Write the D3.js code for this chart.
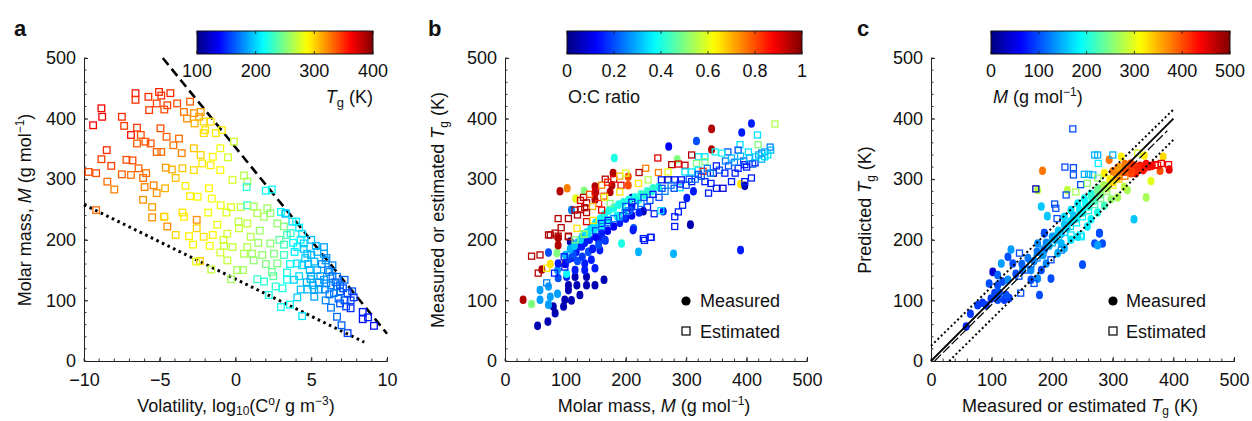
<!DOCTYPE html>
<html><head><meta charset="utf-8">
<script src="https://cdn.jsdelivr.net/npm/d3@7"></script>
<style>body{margin:0;background:#fff}svg{display:block}text{font-family:"Liberation Sans",Arial,Helvetica,sans-serif;fill:#111}</style>
</head><body>
<svg id="chart" width="1252" height="421"></svg>
<script>
// ---------------- DATA ----------------
// Panel a: [volatility log10(C0), molar mass M, Tg (K)]
const aEstimated = [
[-6.6,442,355],[-5.05,444,352],[-4.3,442,350],[-5.75,436,350],[-4.9,438,348],[-6.6,431,350],[-5.2,425,345],[-4.5,422,342],
[-3.85,425,340],[-3.0,428,335],[-5.7,414,345],[-4.7,415,340],[-3.4,411,330],[-2.74,409,322],[-2.3,411,318],[-2.4,403,315],
[-3.2,400,322],[-2.7,392,310],[-2.1,395,300],[-1.64,395,298],[-2.0,381,295],[-1.3,376,295],[-0.9,381,292],[-2.1,376,298],
[-8.85,417,365],[-8.8,403,365],[-9.4,389,362],[-7.5,403,350],[-7.35,388,345],[-6.5,385,345],[-6.9,373,358],[-4.95,384,340],
[-4.55,370,335],[-3.73,367,330],[-6.25,373,340],[-5.95,362,338],[-5.6,359,338],[-6.5,359,335],[-4.1,356,330],[-5.2,345,335],
[-4.9,345,330],[-3.55,343,325],[-2.75,351,305],[-2.3,340,300],[-1.5,337,290],[-1.0,351,282],[-0.5,336,275],[-0.1,362,272],
[-8.5,348,350],[-8.85,333,345],[-7.2,332,340],[-6.8,331,340],[-8.2,322,345],[-9.2,310,340],[-9.7,312,340],[-7.5,308,335],
[-6.9,307,330],[-6.4,318,335],[-5.9,310,330],[-4.6,319,318],[-4.2,316,312],[-3.5,318,305],[-2.75,315,298],[-2.2,326,295],
[-1.64,323,292],[-1.0,315,288],[-0.2,299,275],[0.56,306,265],[0.78,296,262],[0.74,287,225],[2.0,281,215],[2.4,283,215],
[-8.46,296,330],[-8.0,283,325],[-6.1,302,330],[-5.4,290,325],[-6.0,287,325],[-5.2,277,320],[-6.1,266,320],[-5.5,254,315],
[-4.65,285,310],[-3.95,302,305],[-3.3,289,292],[-2.5,271,290],[-1.75,285,290],[-3.0,272,292],[-1.57,268,285],[-4.7,238,305],
[-3.4,238,292],[-0.98,257,282],[-0.3,254,278],[0.34,254,270],[0.78,257,228],[1.2,255,262],[2.1,252,258],[3.0,246,215],
[3.3,243,190],[-1.8,245,285],[-0.6,245,278],[-9.2,249,330],[-5.5,237,320],[-4.7,238,300],[-3.5,245,296],[-4.5,222,322],
[-2.56,233,320],[-2.56,219,300],[-3.95,208,300],[-3.07,206,292],[-2.1,205,295],[-1.5,208,290],[-2.8,192,290],[-1.7,190,285],
[-2.35,165,302],[-2.6,164,280],[-1.6,151,270],[-0.54,210,275],[-0.76,190,270],[-1.0,179,275],[-0.2,188,270],[-0.54,166,270],
[0.12,150,262],[-0.3,135,260],[0.23,219,272],[0.78,227,270],[1.0,205,265],[0.78,188,265],[0.56,177,265],[1.1,177,260],
[1.2,166,255],[0.5,150,260],[1.44,135,228],[1.88,131,225],[2.2,109,220],[1.77,175,255],[2.3,194,255],[2.54,177,250],
[2.76,161,250],[2.4,147,245],[2.65,123,225],[3.1,120,220],[3.0,89,215],[3.6,93,215],[4.4,74,205],[4.08,105,198],
[3.4,146,220],[3.2,175,232],[3.2,192,230],[3.4,208,235],[3.2,222,250],[2.76,227,255],[1.88,238,260],[1.44,244,265],
[2.3,244,255],[3.3,244,200],[3.75,230,205],[3.64,211,225],[4.3,200,210],[4.08,188,205],[4.5,194,200],[4.74,177,195],
[4.08,161,205],[4.4,158,200],[3.4,134,215],[3.86,134,200],[4.3,118,195],[4.74,118,192],[5.2,118,188],[5.5,118,185],
[5.2,106,185],[5.4,180,190],[5.2,164,192],[5.4,150,188],[4.96,135,192],[5.84,188,185],[5.95,166,182],[6.2,147,178],
[5.84,134,182],[6.3,125,176],[6.7,139,172],[6.7,123,172],[7.2,134,168],[6.9,115,166],[5.95,100,178],[6.3,88,172],
[7.2,100,160],[7.6,100,155],[7.6,87,150],[7.7,115,160],[6.7,73,168],[7.0,59,165],[7.4,46,155],[8.4,81,145],
[8.4,69,140],[8.75,72,145],[9.14,58,140],[6.4,158,178],[5.84,177,185],[4.6,170,198],[4.9,150,192],[5.6,140,185],
[6.0,128,180],[6.5,112,175],[3.9,180,208],[4.2,140,202],[5.1,125,190],[6.8,103,170],[3.6,160,215],[2.9,200,240],
[1.6,215,258],[0.2,230,268],[-1.2,225,282],[-0.8,200,275],[2.0,160,250],[2.5,140,240],[1.5,195,258],[4.0,230,210],
[4.5,185,195],[5.0,175,190],[5.3,190,190],[5.7,160,180],[6.1,150,175],[6.4,140,172],[6.0,170,180],[6.6,130,168],
[6.9,125,166],[7.1,120,162],[7.4,112,158],[7.8,105,152],[5.5,130,182],[5.0,140,186],[4.7,130,190],[6.2,110,170],
[6.9,95,163],[7.3,90,158],[4.4,210,205],[5.0,200,195],[4.2,220,208],[3.8,195,212],[4.8,160,192],[5.9,118,178]
];
const aDashed = [[-4.8,500],[10,45]];
const aDotted = [[-10,258],[8.5,31]];

// Panel b: [M, Tg, O:C]
const bMeasured = [
[342,383,0.95],[408,392,0.15],[392,377,0.15],[317,363,0.2],[271,354,0.12],[181,335,0.4],[342,349,0.95],[285,333,0.5],
[179,310,0.95],[91,280,0.95],[103,285,0.75],[131,281,0.5],[117,268,0.6],[149,288,0.95],[149,277,0.95],[177,290,0.95],
[174,279,0.95],[149,266,0.95],[204,304,0.8],[204,290,0.8],[110,249,0.25],[390,292,0.65],[397,289,0.05],[210,269,0.05],
[229,247,0.05],[213,219,0.2],[307,225,0.05],[301,269,0.15],[312,280,0.15],[262,247,0.15],[243,280,0.4],[232,274,0.4],
[221,266,0.4],[210,254,0.15],[254,287,0.4],
[30,101,0.95],[44,94,0.5],[54,58,0.05],[71,65,0.05],[83,79,0.05],[80,90,0.05],[97,90,0.05],[99,101,0.05],[110,100,0.05],
[124,109,0.05],[105,117,0.05],[119,125,0.05],[135,125,0.05],[105,125,0.05],[149,125,0.05],[164,134,0.05],[135,139,0.05],
[116,139,0.05],[102,139,0.15],[88,137,0.2],[72,123,0.28],[58,117,0.28],[58,101,0.28],[72,93,0.28],[75,106,0.28],
[87,111,0.28],[87,150,0.28],[102,144,0.38],[61,151,0.95],[75,160,0.65],[72,179,0.2],[88,161,0.15],[99,161,0.78],
[86,178,0.5],[88,191,0.95],[88,203,0.95],[108,197,0.05],[127,189,0.15],[132,161,0.15],[132,150,0.15],[116,150,0.15],
[149,153,0.15],[143,167,0.15],[157,183,0.15],[155,199,0.15],[166,199,0.15],[193,194,0.4],[221,180,0.3],[279,177,0.3],
[390,183,0.15],[212,216,0.15],
[120,195,0.3],[128,205,0.3],[135,212,0.35],[142,220,0.35],[150,228,0.35],[158,235,0.38],[165,242,0.4],[172,248,0.4],
[180,253,0.4],[188,258,0.4],[196,262,0.4],[205,266,0.4],[215,270,0.4],[225,275,0.42],[235,280,0.42],[245,285,0.42],
[110,170,0.15],[118,180,0.15],[125,190,0.15],[132,195,0.15],[140,200,0.15],[150,205,0.12],[160,210,0.15],[170,215,0.12],
[180,222,0.12],[190,228,0.15],[200,235,0.15],[210,240,0.12],[222,245,0.15],[100,160,0.12],[105,168,0.18],[113,175,0.2],
[120,165,0.2],[128,172,0.18],[138,180,0.2],[145,185,0.15],[155,192,0.2],[165,200,0.18],
[100,175,0.3],[108,185,0.3],[115,190,0.32],[125,200,0.33],[138,210,0.35],[148,218,0.35],[160,225,0.38],[170,232,0.38],
[185,240,0.4],[198,248,0.4]
];
const bEstimated = [
[447,391,0.55],[418,373,0.35],[419,357,0.5],[389,357,0.35],[439,353,0.25],[425,343,0.25],[403,345,0.35],[386,348,0.2],
[369,345,0.2],[359,343,0.4],[348,345,0.38],[331,337,0.35],[320,337,0.35],[309,340,0.95],[331,329,0.5],[317,326,0.5],
[298,323,0.95],[276,324,0.95],[253,335,0.9],[287,325,0.9],[270,312,0.6],[254,311,0.75],[237,299,0.55],[221,293,0.65],
[233,318,0.75],[222,311,0.95],[166,300,0.95],[192,290,0.9],[190,279,0.65],[164,272,0.8],[174,260,0.5],[160,249,0.9],
[135,261,0.95],[116,249,0.95],[132,253,0.95],[88,235,0.95],[105,235,0.95],[120,241,0.95],[93,220,0.95],[75,208,0.95],
[88,206,0.95],[105,206,0.95],[135,230,0.9],[146,232,0.65],[131,209,0.5],[119,219,0.65],[160,227,0.15],[171,232,0.15],
[188,238,0.35],[201,243,0.15],[236,254,0.15],[247,243,0.15],[258,248,0.35],[287,246,0.15],[281,238,0.15],[281,222,0.15],
[294,257,0.15],[337,277,0.15],[350,285,0.15],[361,285,0.08],[397,296,0.15],[408,302,0.15],[375,296,0.15],[331,296,0.15],
[341,293,0.15],[292,299,0.15],[309,296,0.15],[281,299,0.15],[259,299,0.15],[270,299,0.08],[345,310,0.08],[364,310,0.15],
[381,310,0.15],[386,318,0.15],[397,324,0.15],[414,327,0.15],[430,337,0.35],[414,337,0.35],[320,315,0.35],[309,312,0.35],
[298,312,0.35],[328,313,0.85],[290,286,0.35],[242,204,0.15],[229,202,0.15],
[44,173,0.95],[58,175,0.95],[55,145,0.95],[72,208,0.95],[83,211,0.95],[105,205,0.95],[116,200,0.5],[69,153,0.65],
[82,145,0.15],[69,129,0.25],[98,172,0.15],[99,155,0.15],[231,199,0.15],[241,204,0.15],[131,210,0.5],
[150,215,0.2],[160,222,0.25],[170,228,0.2],[180,235,0.25],[195,240,0.2],[205,248,0.25],[215,255,0.2],[225,260,0.25],
[240,265,0.2],[255,270,0.2],[265,280,0.25],[280,285,0.2],[300,290,0.2],[315,300,0.25],[325,305,0.2],[340,310,0.25],
[355,315,0.2],[370,322,0.2],[380,328,0.25],[395,330,0.2],[405,335,0.3],[420,340,0.3],[430,345,0.3],[440,348,0.3],
[435,340,0.35],[425,333,0.3],[410,325,0.2],[400,320,0.15],
[125,265,0.9],[130,270,0.95],[140,275,0.8],[150,280,0.9],[155,260,0.85],[145,255,0.7],[160,290,0.75],[170,295,0.85],
[165,270,0.6],[135,245,0.95],[125,250,0.95],[180,300,0.9],[190,305,0.7],[200,310,0.6],
[200,255,0.2],[210,262,0.15],[230,270,0.2],[245,275,0.15],[260,285,0.2],[275,290,0.25],[290,292,0.15],[305,300,0.2],
[320,308,0.2],[335,318,0.25],[350,322,0.15],[365,330,0.25],[375,335,0.3],[390,338,0.3]
];

// Panel c: [measured or estimated Tg, predicted Tg, M]
const cMeasured = [
[294,332,380],[314,337,320],[352,339,320],[383,337,330],[378,314,400],[393,316,450],[363,297,300],[355,270,270],
[335,234,160],[324,282,270],[184,314,380],[176,282,280],[182,255,160],[192,239,160],[225,282,280],[286,310,320],
[300,313,380],[308,318,385],[319,321,390],[330,318,420],[341,318,430],[352,318,440],[360,321,440],[330,326,400],
[338,310,430],[308,303,320],[297,298,280],[286,290,270],[275,285,240],[264,276,200],[253,268,190],[242,260,180],
[231,249,175],[220,238,170],[236,234,175],[264,234,185],[275,245,200],[286,256,220],[297,267,260],[308,270,270],
[319,287,280],[278,211,100],[187,211,90],[258,222,180],
[58,57,80],[65,78,90],[77,92,90],[85,96,90],[91,92,95],[99,103,90],[110,101,100],[121,101,90],[129,104,95],[105,112,95],
[113,112,100],[124,109,100],[96,128,100],[110,125,100],[118,131,100],[102,147,40],[110,142,110],[127,134,130],[116,161,140],
[127,172,100],[132,184,140],[135,161,100],[140,144,100],[151,150,130],[165,150,130],[165,134,100],[176,136,130],[182,150,100],
[179,109,100],[198,136,100],[190,161,130],[187,183,100],[176,194,130],[187,211,100],[204,205,140],[215,194,150],[209,178,150],
[220,186,150],[231,200,175],[242,205,175],[250,159,100],[270,194,100],[283,194,100],[278,211,100],[275,191,140],
[150,160,110],[160,170,120],[170,165,130],[175,180,120],[185,175,140],[190,195,130],[195,190,150],[200,205,140],[205,200,150],
[210,215,160],[215,210,150],[220,225,160],[225,220,170],[230,230,170],[235,240,160],[240,235,180],[245,250,180],[250,245,190],
[255,260,190],[260,255,200],[265,270,210],[270,265,220],[275,280,240],[280,275,250],[285,290,270],[290,285,280],[295,300,320],
[300,295,340],[305,310,370],[310,305,380],[315,315,390],[320,312,400],[325,320,410],[335,322,420],[345,322,430],[355,325,440],
[365,322,440],[340,315,420],[330,310,410],[350,315,430],[320,325,380],[310,320,360]
];
const cEstimated = [
[234,383,100],[275,340,150],[270,340,150],[300,340,150],[276,326,180],[341,343,290],[374,323,430],[392,324,440],[173,284,30],
[221,320,100],[235,319,100],[235,307,100],[253,308,150],[260,308,150],[267,307,150],[223,274,100],[239,279,270],[247,291,100],
[258,293,260],[275,302,260],[206,252,100],[204,259,100],[208,235,100],[247,208,180],[146,178,100],[198,167,100],[215,183,130],
[231,208,175],[248,205,175],[148,112,100],[170,128,100],
[200,195,150],[210,205,160],[220,212,170],[230,222,170],[240,228,180],[250,238,190],[260,248,200],[270,258,220],[280,268,240],
[290,280,260],[300,290,300],[310,300,340],[320,305,380],[330,312,400],[340,318,410],[350,320,420],[360,322,430],[370,324,440],
[380,326,450],[185,185,140],[175,170,130],[165,160,120],[155,150,110],[145,140,100]
];
const cSolid = [[0,0],[400,400]];
const cDashed = [[6,0],[390,380]];
const cDotUpper = [[0,25],[400,415]];
const cDotLower = [[30,0],[400,365]];

const yTicks = [0,100,200,300,400,500];
const aXTicks = [-10,-5,0,5,10];
const bcXTicks = [0,100,200,300,400,500];
const aBarTicks = [100,200,300,400];
const bBarTicks = [0,0.2,0.4,0.6,0.8,1];
const cBarTicks = [0,100,200,300,400,500];

// ---------------- DRAWING ----------------
const TICK_FS = "18px", TITLE_FS = "18px";
function clamp01(v){return Math.max(0,Math.min(1,v));}
function jet(t){
  t = clamp01(t);
  const r = clamp01(1.5-Math.abs(4*t-3)), g = clamp01(1.5-Math.abs(4*t-2)), b = clamp01(1.5-Math.abs(4*t-1));
  return d3.rgb(r*255,g*255,b*255).toString();
}
const svg = d3.select("#chart");
const defs = svg.append("defs");
const plotTop = 58, plotBottom = 361;

function makePanel(o){
  const g = svg.append("g");
  const x = d3.scaleLinear().domain(o.xdom).range([o.x0,o.x1]);
  const y = d3.scaleLinear().domain([0,500]).range([plotBottom,plotTop]);
  const yAx = d3.axisLeft(y).tickValues(yTicks).tickSize(-4).tickPadding(8);
  const xAx = d3.axisBottom(x).tickValues(o.xticks).tickSize(-4).tickPadding(12).tickFormat(o.xfmt||d3.format("d"));
  const ya = g.append("g").attr("transform",`translate(${o.x0},0)`).call(yAx);
  const xa = g.append("g").attr("transform",`translate(0,${plotBottom})`).call(xAx);
  [ya,xa].forEach(a=>{
    a.select(".domain").attr("stroke","#222").attr("stroke-width",1);
    a.selectAll(".tick line").attr("stroke","#222");
    a.selectAll("text").style("font-size",TICK_FS).style("font-family","Liberation Sans, Arial").attr("fill","#111");
  });
  const yMinor = d3.range(0,501,20);
  g.append("g").selectAll("line").data(yMinor).join("line")
    .attr("x1",o.x0).attr("x2",o.x0+2.5).attr("y1",d=>y(d)).attr("y2",d=>y(d)).attr("stroke","#333").attr("stroke-width",1);
  g.append("g").selectAll("line").data(o.xminor).join("line")
    .attr("y1",plotBottom).attr("y2",plotBottom-2.5).attr("x1",d=>x(d)).attr("x2",d=>x(d)).attr("stroke","#333").attr("stroke-width",1);
  return {g,x,y};
}

function colorbar(o){
  const id = "grad"+o.name;
  const grad = defs.append("linearGradient").attr("id",id).attr("x1","0%").attr("x2","100%").attr("y1","0%").attr("y2","0%");
  d3.range(0,1.0001,0.02).forEach(t=>grad.append("stop").attr("offset",(t*100)+"%").attr("stop-color",jet(t)));
  const s = d3.scaleLinear().domain(o.dom).range([o.x0,o.x1]);
  svg.append("rect").attr("x",o.x0).attr("y",31).attr("width",o.x1-o.x0).attr("height",23)
    .attr("fill",`url(#${id})`).attr("stroke","#111").attr("stroke-width",1);
  const tg = svg.append("g");
  tg.selectAll("line.t").data(o.ticks).join("line").attr("class","t").attr("x1",d=>s(d)).attr("x2",d=>s(d)).attr("y1",31).attr("y2",34).attr("stroke","#111").attr("stroke-width",0.8);
  tg.selectAll("line.b").data(o.ticks).join("line").attr("class","b").attr("x1",d=>s(d)).attr("x2",d=>s(d)).attr("y1",51).attr("y2",54).attr("stroke","#111").attr("stroke-width",0.8);
  tg.selectAll("text").data(o.ticks).join("text").attr("x",d=>s(d)).attr("y",77).attr("text-anchor","middle")
    .style("font-size",TICK_FS).text(o.fmt);
}

function lineDraw(p, pts, w, dash, cap){
  p.g.append("path").datum(pts).attr("d",d3.line().x(d=>p.x(d[0])).y(d=>p.y(d[1])))
    .attr("fill","none").attr("stroke","#000").attr("stroke-width",w).attr("stroke-dasharray",dash).attr("stroke-linecap",cap||"butt");
}
function squares(p, data, cs, sz, sw){
  p.g.append("g").selectAll("rect").data(data).join("rect")
    .attr("x",d=>p.x(d[0])-sz/2).attr("y",d=>p.y(d[1])-sz/2).attr("width",sz).attr("height",sz)
    .attr("fill","none").attr("stroke",d=>jet(cs(d[2]))).attr("stroke-width",sw);
}
function dots(p, data, cs){
  p.g.append("g").selectAll("ellipse").data(data).join("ellipse")
    .attr("cx",d=>p.x(d[0])).attr("cy",d=>p.y(d[1])).attr("rx",3.5).attr("ry",4.3)
    .attr("fill",d=>jet(cs(d[2])));
}
function rich(sel, parts){
  parts.forEach(pt=>{
    const t = sel.append("tspan").text(pt.t);
    if(pt.i) t.style("font-style","italic");
    if(pt.dy) t.attr("dy",pt.dy);
    if(pt.fs) t.style("font-size",pt.fs);
  });
}
function title(x,y,rot,parts,anchor){
  const t = svg.append("text").attr("text-anchor",anchor||"middle").style("font-size",TITLE_FS)
    .attr("transform",`translate(${x},${y})${rot?" rotate(-90)":""}`);
  rich(t,parts); return t;
}

// ---- Panel a
const pa = makePanel({x0:84,x1:387,xdom:[-10,10],xticks:aXTicks,xminor:d3.range(-10,10.1,1),xfmt:d=>d<0?"\u2212"+Math.abs(d):d});
const csA = d3.scaleLinear().domain([100,400]).range([0,1]);
lineDraw(pa,aDashed,2.6,"9,5");
lineDraw(pa,aDotted,3,"2.6,3.6");
squares(pa,aEstimated,csA,6.6,1.3);

// ---- Panel b
const pb = makePanel({x0:505,x1:807,xdom:[0,500],xticks:bcXTicks,xminor:d3.range(0,501,20)});
const csB = d3.scaleLinear().domain([0,1]).range([0,1]);
dots(pb,bMeasured,csB);
squares(pb,bEstimated,csB,6,1.3);

// ---- Panel c
const pc = makePanel({x0:931,x1:1234,xdom:[0,500],xticks:bcXTicks,xminor:d3.range(0,501,20)});
const csC = d3.scaleLinear().domain([0,500]).range([0,1]);
dots(pc,cMeasured,csC);
squares(pc,cEstimated,csC,6,1.3);
lineDraw(pc,cDotUpper,2,"2,2.6");
lineDraw(pc,cDotLower,2,"2,2.6");
lineDraw(pc,cDashed,1.2,"9,3");
lineDraw(pc,cSolid,1.8,null);

// colorbars
colorbar({name:"a",x0:197,x1:373,dom:[100,400],ticks:aBarTicks,fmt:d=>d});
colorbar({name:"b",x0:567,x1:802,dom:[0,1],ticks:bBarTicks,fmt:d=>d});
colorbar({name:"c",x0:991,x1:1230,dom:[0,500],ticks:cBarTicks,fmt:d=>d});

// colorbar titles
{ const t = svg.append("text").attr("x",373).attr("y",103).attr("text-anchor","end").style("font-size",TICK_FS);
  rich(t,[{t:"T",i:true},{t:"g",dy:4,fs:"13px"},{t:" (K)",dy:-4}]); }
svg.append("text").attr("x",568).attr("y",103).style("font-size",TICK_FS).text("O:C ratio");
{ const t = svg.append("text").attr("x",993).attr("y",103).style("font-size",TICK_FS);
  rich(t,[{t:"M",i:true},{t:" (g mol"},{t:"\u22121",dy:-7,fs:"12px"},{t:")",dy:7}]); }

// legends
[{cx:686,tx:700},{cx:1113,tx:1126}].forEach(l=>{
  svg.append("circle").attr("cx",l.cx).attr("cy",301).attr("r",4.6).attr("fill","#000");
  svg.append("rect").attr("x",l.cx-4).attr("y",327).attr("width",8).attr("height",8).attr("fill","none").attr("stroke","#000").attr("stroke-width",1.2);
  svg.append("text").attr("x",l.tx).attr("y",307).style("font-size",TICK_FS).text("Measured");
  svg.append("text").attr("x",l.tx).attr("y",338).style("font-size",TICK_FS).text("Estimated");
});

// panel letters
[["a",14],["b",428],["c",857]].forEach(([s,x])=>svg.append("text").attr("x",x).attr("y",36).style("font-size","22px").style("font-weight","bold").text(s));

// axis titles
title(236,412,false,[{t:"Volatility, log"},{t:"10",dy:3,fs:"12px"},{t:"(C",dy:-3},{t:"o",dy:-7,fs:"12px"},{t:"/  g m",dy:7},{t:"\u22123",dy:-7,fs:"12px"},{t:")",dy:7}]);
title(31,210,true,[{t:"Molar mass, "},{t:"M",i:true},{t:" (g mol"},{t:"\u22121",dy:-7,fs:"12px"},{t:")",dy:7}]);
title(654,412,false,[{t:"Molar mass, "},{t:"M",i:true},{t:" (g mol"},{t:"\u22121",dy:-7,fs:"12px"},{t:")",dy:7}]);
title(444,210,true,[{t:"Measured or estimated "},{t:"T",i:true},{t:"g",dy:4,fs:"12px"},{t:" (K)",dy:-4}]);
title(1080,412,false,[{t:"Measured or estimated "},{t:"T",i:true},{t:"g",dy:3,fs:"12px"},{t:" (K)",dy:-3}]);
title(871,210,true,[{t:"Predicted "},{t:"T",i:true},{t:"g",dy:4,fs:"12px"},{t:" (K)",dy:-4}]);
</script>
</body></html>
